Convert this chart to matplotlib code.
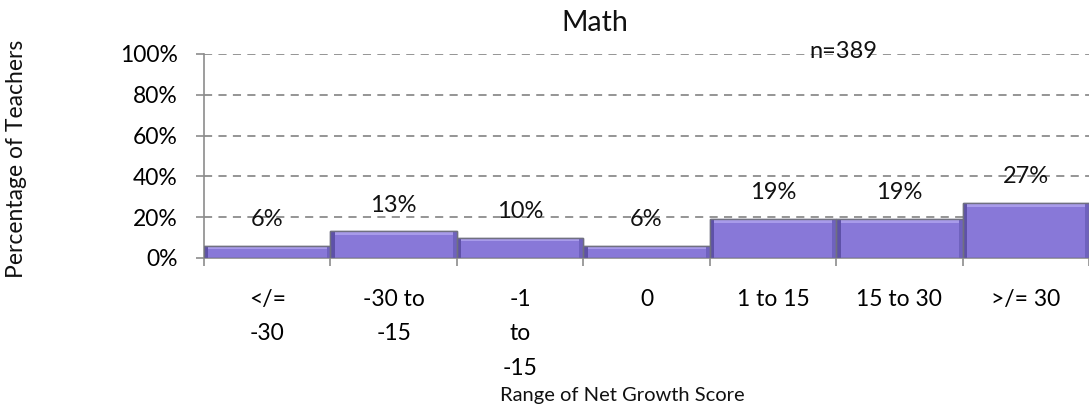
import matplotlib
matplotlib.use("Agg")
import matplotlib.pyplot as plt
import numpy as np

plt.rcParams["font.family"] = ["Lato", "DejaVu Sans"]

categories = ["</=\n-30", "-30 to\n-15", "-1\nto\n-15", "0", "1 to 15", "15 to 30", ">/= 30"]
percent_teachers = [6, 13, 10, 6, 19, 19, 27]
value_labels = ["6%", "13%", "10%", "6%", "19%", "19%", "27%"]
y_ticks = [0, 20, 40, 60, 80, 100]
y_tick_labels = ["0%", "20%", "40%", "60%", "80%", "100%"]
sample_note = "n=389"

W, H = 1089, 416
fig = plt.figure(figsize=(W / 100, H / 100), dpi=100)
ax = fig.add_axes([204 / W, 1 - 258 / H, (W - 204) / W, (258 - 54) / H])

x_left = np.arange(len(categories))
heights = np.array(percent_teachers, dtype=float)

fill = "#8878D8"
ax.bar(x_left, heights, width=1.0, align="edge", color=fill,
       edgecolor="#6d6d80", linewidth=1.0, zorder=3)
# bevel: light strip along the top, darker strips on the sides
bevel = 1.8
ax.bar(x_left, np.full_like(heights, bevel), bottom=heights - bevel, width=1.0,
       align="edge", color="#A89BEA", linewidth=0, zorder=4)
ax.bar(x_left, heights, width=0.035, align="edge", color="#5E51A8",
       linewidth=0, zorder=4)
ax.bar(x_left + 1.0, heights, width=-0.03, align="edge", color="#6F62BE",
       linewidth=0, zorder=4)
ax.bar(x_left, heights, width=1.0, align="edge", color="none",
       edgecolor="#707080", linewidth=1.0, zorder=5)

for xi, h, lab in zip(x_left, heights, value_labels):
    ax.annotate(lab, (xi + 0.5, h), xytext=(0, 19), textcoords="offset points",
                ha="center", va="center", fontsize=17, color="#111111", zorder=6)

ax.set_xlim(0, (W - 204) / 127.2)
ax.set_ylim(0, 100)

ax.set_yticks(y_ticks)
ax.set_yticklabels(y_tick_labels, fontsize=16.5)
ax.yaxis.grid(True, linestyle=(0, (4.5, 3.5)), color="#8c8c8c", linewidth=1.3, zorder=0)
ax.set_axisbelow(True)

ax.set_xticks(x_left + 0.5)
ax.set_xticklabels(categories, fontsize=16.5, linespacing=1.8, va="top")
ax.set_xticks(np.arange(len(categories) + 1), minor=True)
ax.tick_params(axis="x", which="major", length=0, pad=22)
ax.tick_params(axis="x", which="minor", length=6, width=1.2, color="#8c8c8c", direction="out")
ax.tick_params(axis="y", length=6, width=1.2, color="#8c8c8c", pad=13)

for side in ("top", "right"):
    ax.spines[side].set_visible(False)
for side in ("left", "bottom"):
    ax.spines[side].set_color("#8c8c8c")
    ax.spines[side].set_linewidth(1.2)

fig.text(595 / W, 1 - 23 / H, "Math", ha="center", va="center", fontsize=20.5, color="#111111")
fig.text(843 / W, 1 - 52 / H, sample_note, ha="center", va="center", fontsize=17, color="#111111")
fig.text(17 / W, 1 - 159 / H, "Percentage of Teachers", rotation=90, ha="center",
         va="center", fontsize=16.5, color="#111111")
fig.text(622 / W, 1 - 396 / H, "Range of Net Growth Score", ha="center", va="center",
         fontsize=14.5, color="#111111")

fig.savefig("out.png", dpi=100, facecolor="white")
